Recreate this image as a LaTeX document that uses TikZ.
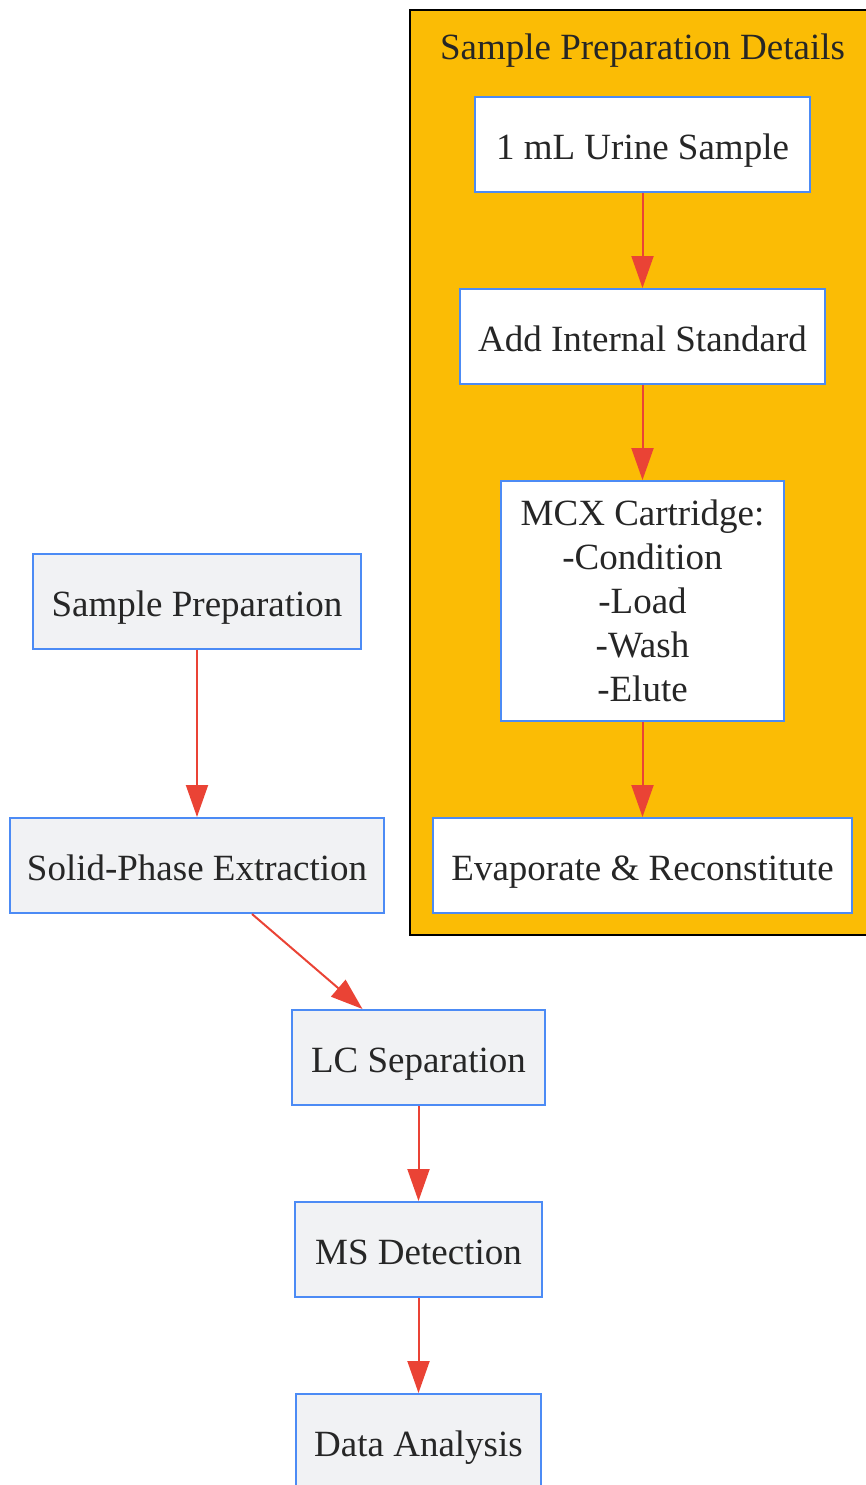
\documentclass[tikz,border=0pt]{standalone}
\usepackage{fontspec}
\setmainfont{Liberation Serif}
\usetikzlibrary{arrows.meta}
\definecolor{boxblue}{HTML}{4C8BF5}
\definecolor{boxgray}{HTML}{F1F2F4}
\definecolor{flowred}{HTML}{EA4335}
\definecolor{boxamber}{HTML}{FBBC05}
\definecolor{inkgray}{HTML}{262626}
\begin{document}
\begin{tikzpicture}[x=1pt, y=-1pt,
    label text/.style={text=inkgray, font=\fontsize{37}{44}\selectfont, text height=30pt, text depth=0pt},
    box/.style={label text, draw=boxblue, line width=2pt, fill=boxgray,
        minimum height=95pt, inner xsep=17pt},
    detail/.style={box, fill=white},
    flow/.style={draw=flowred, line width=2pt, -{Triangle[length=32pt, width=22pt]}}]
    \def\lx{197}
    \def\mx{418.5}
    \def\dx{642.5}

    \useasboundingbox (0,0) rectangle (865,1485);

% detail-ի վանդակը
    \draw[black, line width=2pt, fill=boxamber] (410,10) rectangle (870,935);
    \node[label text] (title) at (\dx,45) {Sample Preparation Details};
    \node[detail, minimum width=335pt] (urine) at (\dx,144.5) {1 mL Urine Sample};
    \node[detail, minimum width=365pt] (istd) at (\dx,336.5) {Add Internal Standard};
    \node[detail, minimum width=283pt, text height=, text depth=, align=center, minimum height=240pt] (mcx) at (\dx,601)
        {MCX Cartridge:\\-Condition\\-Load\\-Wash\\-Elute};
    \node[detail, minimum width=419pt] (evap) at (\dx,865.5) {Evaporate \& Reconstitute};
    \draw[flow] (urine) -- (istd);
    \draw[flow] (istd) -- (mcx);
    \draw[flow] (mcx) -- (evap);

% main flow
    \node[box, minimum width=328pt] (prep) at (\lx,601) {Sample Preparation};
    \node[box, minimum width=374pt] (spe) at (\lx,865.5) {Solid-Phase Extraction};
    \node[box, minimum width=253pt] (lc) at (\mx,1057.5) {LC Separation};
    \node[box, minimum width=247pt] (ms) at (\mx,1249.5) {MS Detection};
    \node[box, minimum width=245pt] (data) at (\mx,1441.5) {Data Analysis};
    \draw[flow] (prep) -- (spe);
    \draw[flow] ([xshift=55pt]spe.south) -- ([xshift=-56pt]lc.north);
    \draw[flow] (lc) -- (ms);
    \draw[flow] (ms) -- (data);
\end{tikzpicture}
\end{document}
